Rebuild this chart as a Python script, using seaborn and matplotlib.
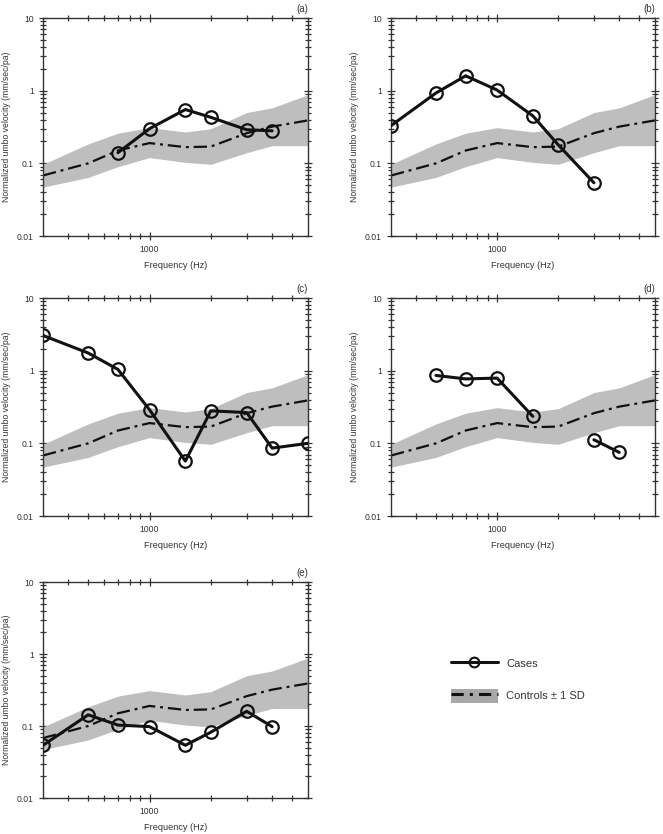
import numpy as np
import pandas as pd
import matplotlib
matplotlib.use("Agg")
import matplotlib.pyplot as plt
import seaborn as sns
from matplotlib.lines import Line2D
from matplotlib.patches import Patch
from matplotlib.ticker import FixedLocator, NullFormatter, LogLocator, FixedFormatter

sns.set_style("ticks")
plt.rcParams["font.family"] = ["Liberation Sans", "DejaVu Sans"]

# Frequencies (Hz) at which velocity was measured
freqs = [300, 500, 700, 1000, 1500, 2000, 3000, 4000, 6000]

# Controls: mean and +/- 1 SD band
ctrl_mean = [0.068, 0.10, 0.15, 0.19, 0.167, 0.17, 0.26, 0.32, 0.39]
ctrl_upper = [0.097, 0.185, 0.26, 0.31, 0.27, 0.30, 0.50, 0.58, 0.88]
ctrl_lower = [0.047, 0.064, 0.09, 0.12, 0.103, 0.097, 0.14, 0.175, 0.175]

# Cases, one list per panel (nan = no measurement)
nan = np.nan
case_a = [nan, nan, 0.14, 0.30, 0.55, 0.43, 0.29, 0.28, nan]
case_b = [0.33, 0.93, 1.6, 1.02, 0.45, 0.18, 0.054, nan, nan]
case_c = [3.05, 1.75, 1.04, 0.29, 0.057, 0.28, 0.265, 0.086, 0.10]
case_d = [nan, 0.86, 0.77, 0.79, 0.235, nan, 0.112, 0.075, nan]
case_e = [0.054, 0.143, 0.103, 0.098, 0.054, 0.082, 0.16, 0.098, nan]

panel_labels = ["(a)", "(b)", "(c)", "(d)", "(e)"]
cases = [case_a, case_b, case_c, case_d, case_e]

W, H = 663, 834
fig = plt.figure(figsize=(W / 100, H / 100), dpi=100)

# axes boxes in pixels: left, top, right, bottom
boxes = [(43, 18, 308, 236), (391, 18, 655, 236),
         (43, 298, 308, 516), (391, 298, 655, 516),
         (43, 582, 308, 798)]

txt_col = "#333333"
band_col = "#bebebe"

ctrl_df = pd.DataFrame({"freq": freqs, "mean": ctrl_mean})

for lab, vals, (l, t, r, b) in zip(panel_labels, cases, boxes):
    ax = fig.add_axes([l / W, 1 - b / H, (r - l) / W, (b - t) / H])
    ax.fill_between(freqs, ctrl_lower, ctrl_upper, color=band_col, lw=0, zorder=1)
    sns.lineplot(data=ctrl_df, x="freq", y="mean", ax=ax, color="#111111",
                 lw=1.6, zorder=2)
    ax.lines[-1].set_dashes([6, 2.2, 1.3, 2.2])

    d = pd.DataFrame({"freq": freqs, "v": vals})
    d["seg"] = d["v"].isna().cumsum()
    d = d.dropna()
    sns.lineplot(data=d, x="freq", y="v", units="seg", estimator=None, ax=ax,
                 color="#111111", lw=2.2, marker="o", markersize=9,
                 markerfacecolor="none", markeredgecolor="#111111",
                 markeredgewidth=1.6, zorder=3)

    ax.set_xscale("log")
    ax.set_yscale("log")
    ax.set_xlim(300, 6000)
    ax.set_ylim(0.01, 10)

    ax.xaxis.set_major_locator(FixedLocator([1000]))
    ax.xaxis.set_major_formatter(FixedFormatter(["1000"]))
    ax.xaxis.set_minor_locator(FixedLocator([400, 500, 600, 700, 800, 900,
                                             2000, 3000, 4000, 5000]))
    ax.xaxis.set_minor_formatter(NullFormatter())
    ax.yaxis.set_major_locator(FixedLocator([0.01, 0.1, 1, 10]))
    ax.yaxis.set_major_formatter(FixedFormatter(["0.01", "0.1", "1", "10"]))
    ax.yaxis.set_minor_locator(LogLocator(base=10, subs=np.arange(2, 10)))
    ax.yaxis.set_minor_formatter(NullFormatter())

    ax.tick_params(which="both", direction="inout", top=True, right=True,
                   colors=txt_col, labelsize=6.2, width=0.9)
    ax.tick_params(which="major", length=6)
    ax.tick_params(which="minor", length=4)
    for s in ax.spines.values():
        s.set_color(txt_col)
        s.set_linewidth(1.0)

    ax.set_xlabel("Frequency (Hz)", fontsize=6.6, color=txt_col)
    ax.set_ylabel("Normalized umbo velocity (mm/sec/pa)", fontsize=6.2, color=txt_col)
    ax.xaxis.set_label_coords(0.5, -0.115)
    ax.yaxis.set_label_coords(-0.122, 0.5)
    ax.text(1.0, 1.02, lab, transform=ax.transAxes, ha="right", va="bottom",
            fontsize=7, color=txt_col)
    if ax.get_legend() is not None:
        ax.get_legend().remove()

h_cases = Line2D([], [], color="#111111", lw=2.2, marker="o", markersize=7,
                 markerfacecolor="none", markeredgewidth=1.5)
h_band = Patch(facecolor="#a8a8a8", edgecolor="none")
h_mean = Line2D([], [], color="#111111", lw=2.2, dashes=[4, 2, 1, 2])
fig.legend([h_cases, (h_band, h_mean)], ["Cases", "Controls \u00b1 1 SD"],
           loc="center left", bbox_to_anchor=(0.665, 0.185), frameon=False,
           handlelength=4.2, handleheight=1.6, labelspacing=1.6, fontsize=8,
           labelcolor=txt_col)

fig.savefig("out.png", dpi=100)
